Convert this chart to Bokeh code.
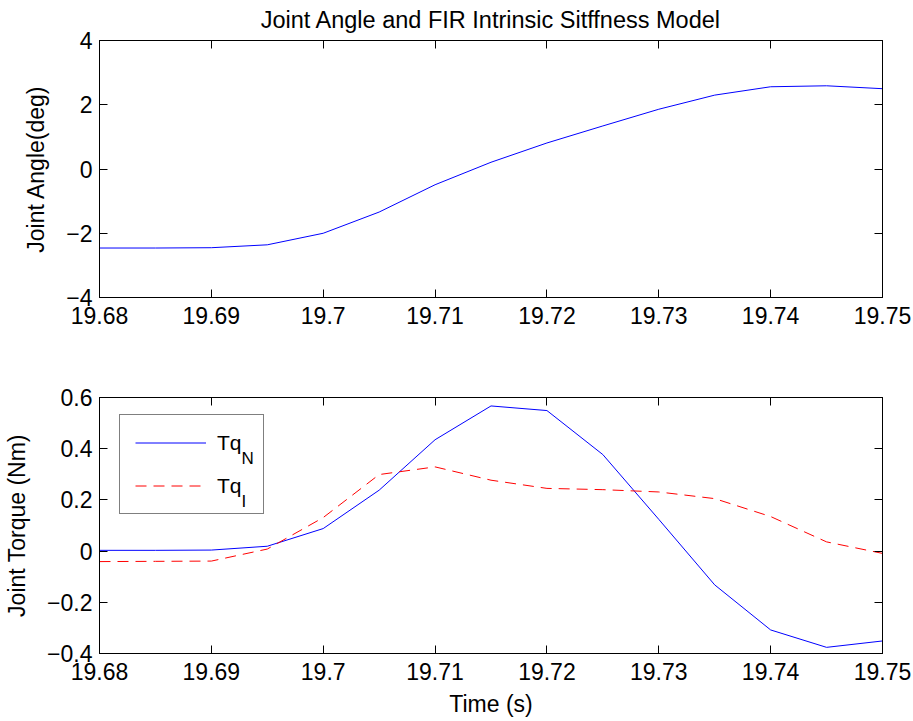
from bokeh.plotting import figure
from bokeh.layouts import column
from bokeh.models import (FixedTicker, CustomJSTickFormatter, LinearAxis, Legend,
                          LegendItem, Label, Range1d)
from bokeh.embed import file_html
from bokeh.resources import INLINE

# ---------------- data ----------------
time_s = [19.680, 19.685, 19.690, 19.695, 19.700, 19.705, 19.710, 19.715,
          19.720, 19.725, 19.730, 19.735, 19.740, 19.745, 19.750]
joint_angle_deg = [-2.46, -2.46, -2.45, -2.36, -2.00, -1.34, -0.49, 0.21,
                   0.81, 1.34, 1.86, 2.30, 2.56, 2.59, 2.50]
torque_net = [0.003, 0.003, 0.004, 0.019, 0.088, 0.238, 0.435, 0.567,
              0.549, 0.377, 0.124, -0.132, -0.308, -0.376, -0.351]
torque_intrinsic = [-0.041, -0.040, -0.039, 0.008, 0.131, 0.299, 0.329, 0.277,
                    0.245, 0.240, 0.231, 0.205, 0.135, 0.036, -0.009]

x_ticks = [19.68, 19.69, 19.70, 19.71, 19.72, 19.73, 19.74, 19.75]
angle_ticks = [-4, -2, 0, 2, 4]
torque_ticks = [-0.4, -0.2, 0.0, 0.2, 0.4, 0.6]

title_text = "Joint Angle and FIR Intrinsic Sitffness Model"
angle_label = "Joint Angle(deg)"
torque_label = "Joint Torque (Nm)"
time_label = "Time (s)"
legend_main = ["Tq", "Tq"]
legend_sub = ["N", "I"]

FONT = "Liberation Sans"
FS = "23px"

x_fmt = CustomJSTickFormatter(code="return String(parseFloat(tick.toFixed(2)));")
angle_fmt = CustomJSTickFormatter(
    code="var s = String(Math.abs(Math.round(tick))); return (tick < 0 ? '\\u2212' : '') + s;")
torque_fmt = CustomJSTickFormatter(
    code="var v = parseFloat(Math.abs(tick).toFixed(1)); return (tick < -1e-9 ? '\\u2212' : '') + String(v);")


def style_axis(ax):
    ax.axis_line_color = "black"
    ax.axis_line_width = 1
    ax.major_tick_in = 8
    ax.major_tick_out = 0
    ax.major_tick_line_color = "black"
    ax.minor_tick_line_color = None
    ax.major_label_text_font = FONT
    ax.major_label_text_font_size = FS
    ax.major_label_text_color = "black"
    ax.axis_label_text_font = FONT
    ax.axis_label_text_font_size = FS
    ax.axis_label_text_font_style = "normal"
    ax.axis_label_text_color = "black"


def add_box_axes(p, xt, yt):
    top = LinearAxis(ticker=FixedTicker(ticks=xt),
                     formatter=CustomJSTickFormatter(code="return '';"))
    right = LinearAxis(ticker=FixedTicker(ticks=yt),
                       formatter=CustomJSTickFormatter(code="return '';"))
    for ax in (top, right):
        style_axis(ax)
        ax.major_label_text_font_size = "0px"
        ax.major_label_standoff = 0
    p.add_layout(top, "above")
    p.add_layout(right, "right")


def make_fig(height, b_top, b_bottom, y0, y1):
    p = figure(width=912, height=height, output_backend="svg", toolbar_location=None,
               x_range=Range1d(19.68, 19.75), y_range=Range1d(y0, y1),
               min_border_left=99, min_border_right=30,
               min_border_top=b_top, min_border_bottom=b_bottom)
    p.xgrid.visible = False
    p.ygrid.visible = False
    p.outline_line_color = "black"
    p.outline_line_width = 1
    p.background_fill_color = "white"
    p.border_fill_color = "white"
    return p


# ---------------- top: joint angle ----------------
p1 = make_fig(347, 40, 50, -4, 4)
p1.line(time_s, joint_angle_deg, line_color="#0000ff", line_width=1)
p1.xaxis.ticker = FixedTicker(ticks=x_ticks)
p1.xaxis.formatter = x_fmt
p1.yaxis.ticker = FixedTicker(ticks=angle_ticks)
p1.yaxis.formatter = angle_fmt
p1.yaxis.axis_label = angle_label
for ax in p1.xaxis + p1.yaxis:
    style_axis(ax)
p1.xaxis.major_label_standoff = 9
p1.yaxis.major_label_standoff = 7
p1.yaxis.axis_label_standoff = 14
add_box_axes(p1, x_ticks, angle_ticks)
p1.title.text = title_text
p1.title.align = "center"
p1.title.vertical_align = "top"
p1.title.offset = -4
p1.title.text_font = FONT
p1.title.text_font_size = "23.5px"
p1.title.text_font_style = "normal"
p1.title.text_color = "black"
p1.title.standoff = 11

# ---------------- bottom: joint torque ----------------
p2 = make_fig(374, 50, 68, -0.4, 0.6)
r_n = p2.line(time_s, torque_net, line_color="#0000ff", line_width=1)
r_i = p2.line(time_s, torque_intrinsic, line_color="#ff0000", line_width=1,
              line_dash="11 7")
p2.xaxis.ticker = FixedTicker(ticks=x_ticks)
p2.xaxis.formatter = x_fmt
p2.xaxis.axis_label = time_label
p2.yaxis.ticker = FixedTicker(ticks=torque_ticks)
p2.yaxis.formatter = torque_fmt
p2.yaxis.axis_label = torque_label
for ax in p2.xaxis + p2.yaxis:
    style_axis(ax)
p2.xaxis.major_label_standoff = 9
p2.xaxis.axis_label_standoff = 8
p2.yaxis.major_label_standoff = 7
p2.yaxis.axis_label_standoff = 14
add_box_axes(p2, x_ticks, torque_ticks)

legend = Legend(
    items=[LegendItem(label=legend_main[0], renderers=[r_n]),
           LegendItem(label=legend_main[1], renderers=[r_i])],
    location=(20, 139), orientation="vertical",
    padding=15, spacing=18, glyph_width=71, glyph_height=25,
    label_height=25, label_width=31, label_standoff=11,
    label_text_font=FONT, label_text_font_size="21px", label_text_color="black",
    border_line_color="black", border_line_width=1,
    background_fill_color="white", background_fill_alpha=0.0, margin=0)
p2.add_layout(legend)

sub_y = [195, 151.6]
for txt, yy in zip(legend_sub, sub_y):
    p2.add_layout(Label(x=142, y=yy, x_units="screen", y_units="screen", text=txt,
                        text_font=FONT, text_font_size="17px", text_color="black",
                        text_baseline="alphabetic", text_align="left"))

layout = column(p1, p2, spacing=0)

with open("out.html", "w", encoding="utf-8") as f:
    f.write(file_html(layout, INLINE, title="Joint Angle and FIR Intrinsic Stiffness Model"))
